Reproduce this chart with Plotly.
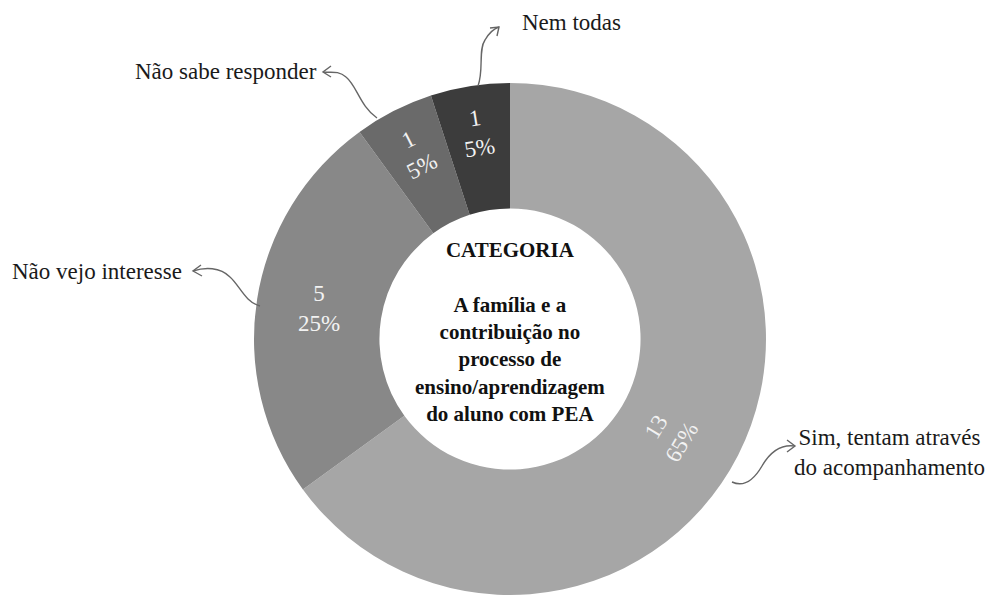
import math
import plotly.graph_objects as go

# ---- data ----
categories = ["Sim, tentam através do acompanhamento", "Não vejo interesse",
              "Não sabe responder", "Nem todas"]
values = [13, 5, 1, 1]
colors = ["#a6a6a6", "#888888", "#6a6a6a", "#3c3c3c"]
outer_labels = ["Sim, tentam através<br>do acompanhamento", "Não vejo interesse",
                "Não sabe responder", "Nem todas"]
center_title = "CATEGORIA"
center_text = ["A família e a", "contribuição no", "processo de",
               "ensino/aprendizagem", "do aluno com PEA"]
# text orientation of the slice labels
orientation = ["tangential", "horizontal", "tangential", "tangential"]

W, H = 1002, 596
OFF = 8  # page body margin
SERIF = "Liberation Serif"
TXT = "#f2f2f2"
CLEAR = "rgba(0,0,0,0)"


def P(x, y):
    return (x - OFF) / W, 1 - (y - OFF) / H


cx, cy, R = 510, 339, 256
HOLE = 0.51
(dx0, dy1), (dx1, dy0) = P(cx - R, cy - R), P(cx + R, cy + R)

total = sum(values)
common = dict(labels=categories, values=values, sort=False, direction="clockwise",
              rotation=0, hole=HOLE, domain=dict(x=[dx0, dx1], y=[dy0, dy1]),
              textposition="inside", texttemplate="%{value}<br>%{percent:.0%}",
              hoverinfo="label+value+percent", showlegend=False)

fig = go.Figure()
fig.add_trace(go.Pie(**common,
                     marker=dict(colors=colors, line=dict(width=0)),
                     insidetextorientation="tangential",
                     textfont=dict(family=SERIF, size=23,
                                   color=[TXT if (o == "tangential" and i > 0) else CLEAR
                                          for i, o in enumerate(orientation)])))
fig.add_trace(go.Pie(**common,
                     marker=dict(colors=[CLEAR] * len(values), line=dict(width=0)),
                     insidetextorientation="horizontal",
                     textfont=dict(family=SERIF, size=23,
                                   color=[TXT if o == "horizontal" else CLEAR
                                          for o in orientation])))

# label of the large slice, placed tangentially near its mid-angle
mid = 360 * values[0] / total / 2
ang = mid + 4
rt = R * (1 + HOLE) / 2 * 0.96
tx = cx + rt * math.sin(math.radians(ang))
ty = cy - rt * math.cos(math.radians(ang))
ax_, ay_ = P(tx, ty)
fig.add_annotation(x=ax_, y=ay_, xref="paper", yref="paper", showarrow=False,
                   text="%d<br>%d%%" % (values[0], round(100 * values[0] / total)),
                   textangle=ang - 180, xanchor="center", yanchor="middle",
                   font=dict(family=SERIF, size=23, color=TXT))

# center text
x0, y0 = P(cx, 332)
fig.add_annotation(x=x0, y=y0, xref="paper", yref="paper", showarrow=False,
                   text="<b>" + center_title + "<br><br>" + "<br>".join(center_text) + "</b>",
                   font=dict(family=SERIF, size=21, color="#111111"),
                   xanchor="center", yanchor="middle", align="center")

# outer labels
lab_pos = [(889, 453, "center"), (10, 271, "left"), (319, 72, "right"), (520, 22, "left")]
for lab, (x, y, anc) in zip(outer_labels, lab_pos):
    px_, py_ = P(x, y)
    fig.add_annotation(x=px_, y=py_, xref="paper", yref="paper", showarrow=False,
                       text=lab, xanchor=anc, yanchor="middle", align="center",
                       font=dict(family=SERIF, size=23, color="#1a1a1a"))


# curved connector arrows (decoration)
def path(pts_cmds):
    out = []
    for cmd, pts in pts_cmds:
        coords = " ".join("%.5f,%.5f" % P(x, y) for x, y in pts)
        out.append(cmd + " " + coords)
    return " ".join(out)


arrows = [
    # Sim
    ([("M", [(732, 482)]), ("C", [(745, 488), (755, 478), (762, 466)]),
      ("C", [(770, 452), (780, 444), (795, 446)])],
     [("M", [(787, 440)]), ("L", [(795, 446)]), ("L", [(787, 452)])]),
    # Não vejo interesse
    ([("M", [(260, 306)]), ("C", [(245, 302), (240, 286), (230, 277)]),
      ("C", [(220, 267), (205, 267), (193, 271)])],
     [("M", [(201, 265)]), ("L", [(193, 271)]), ("L", [(202, 276)])]),
    # Não sabe responder
    ([("M", [(377, 118)]), ("C", [(360, 106), (357, 86), (346, 77)]),
      ("C", [(338, 70), (330, 73), (323, 72)])],
     [("M", [(331, 66)]), ("L", [(323, 72)]), ("L", [(331, 77)])]),
    # Nem todas
    ([("M", [(478, 86)]), ("C", [(484, 70), (478, 50), (485, 40)]),
      ("C", [(489, 33), (493, 29), (499, 27)])],
     [("M", [(490, 28)]), ("L", [(499, 27)]), ("L", [(497, 36)])]),
]
for curve, head in arrows:
    for pc in (curve, head):
        fig.add_shape(type="path", path=path(pc), xref="paper", yref="paper",
                      line=dict(color="#666666", width=1.4))

fig.update_layout(width=W, height=H, margin=dict(l=0, r=0, t=0, b=0),
                  paper_bgcolor="white", plot_bgcolor="white",
                  font=dict(family=SERIF))
fig.write_html("out.html")
